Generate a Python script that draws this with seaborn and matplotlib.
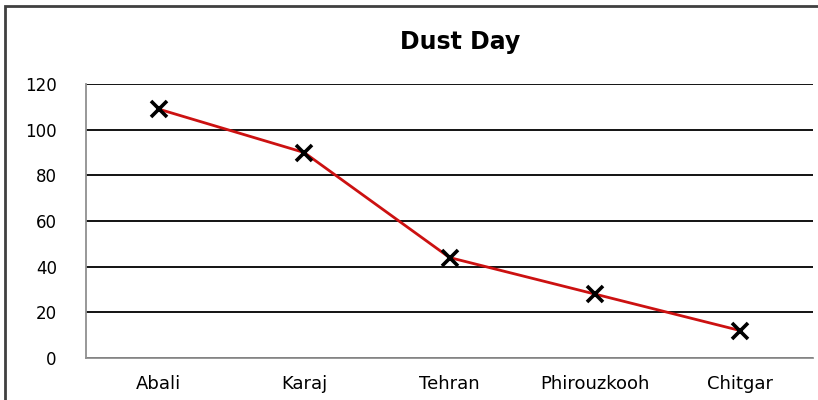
import numpy as np
import pandas as pd
import matplotlib
matplotlib.use("Agg")
import matplotlib.pyplot as plt
import seaborn as sns

# data
stations = ["Abali", "Karaj", "Tehran", "Phirouzkooh", "Chitgar"]
dust_days = [109, 90, 44, 28, 12]
y_ticks = [0, 20, 40, 60, 80, 100, 120]

df = pd.DataFrame({"station": stations, "days": dust_days})

sns.set_style("white")
plt.rcParams["font.family"] = ["DejaVu Sans"]

fig = plt.figure(figsize=(8.18, 4), dpi=100)
ax = fig.add_axes([86 / 818, 42 / 400, 727 / 818, 274 / 400])

# chart frame like the excel chart area
frame = plt.Rectangle((5 / 818, -0.1), 2.0, (394 + 40) / 400, transform=fig.transFigure,
                      fill=False, edgecolor="#404040", linewidth=2, clip_on=False)
fig.patches.append(frame)

sns.lineplot(data=df, x="station", y="days", ax=ax, color="#cc1111", linewidth=2,
             marker="x", markersize=11, markeredgewidth=2.6, markeredgecolor="black",
             sort=False, zorder=3)

ax.set_ylim(0, 120)
ax.set_xlim(-0.5, len(stations) - 0.5)
ax.set_yticks(y_ticks)
ax.set_yticklabels([str(v) for v in y_ticks], fontsize=12, color="black")
ax.yaxis.grid(True, color="black", linewidth=1.3)
ax.set_axisbelow(True)

# category ticks on the boundaries, labels in the middle
ax.set_xticks(np.arange(-0.5, len(stations)))
ax.set_xticklabels([])
ax.set_xticks(np.arange(len(stations)), minor=True)
ax.set_xticklabels(stations, minor=True, fontsize=13, color="black")
ax.tick_params(axis="x", which="major", direction="out", length=6, color="#909090", width=1.3)
ax.tick_params(axis="x", which="minor", length=0, pad=12)
ax.tick_params(axis="y", direction="out", length=6, color="#909090", width=1.3, pad=15)

ax.set_xlabel("")
ax.set_ylabel("")
for side in ["top", "right"]:
    ax.spines[side].set_visible(False)
for side in ["left", "bottom"]:
    ax.spines[side].set_color("#909090")
    ax.spines[side].set_linewidth(1.3)

fig.text(460 / 818, 1 - 42 / 400, "Dust Day", ha="center", va="center",
         fontsize=17, fontweight="bold", color="black")

fig.savefig("out.png", dpi=100)
